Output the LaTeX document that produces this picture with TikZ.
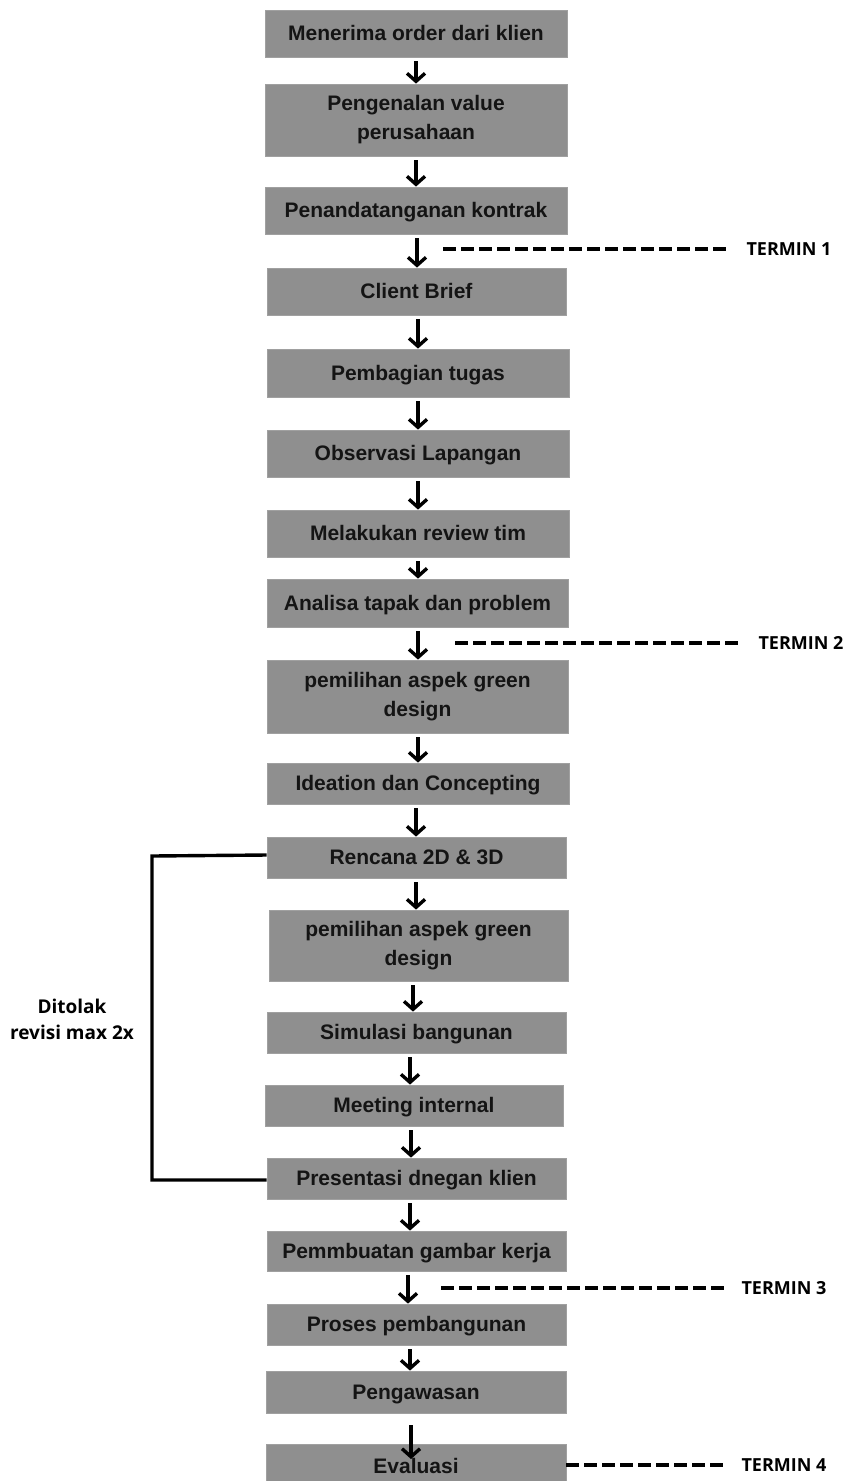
\documentclass[tikz,border=0pt]{standalone}
\usepackage{fontspec}
\setmainfont{Liberation Sans}
\newfontfamily\labelfont{Open Sans}
\usetikzlibrary{arrows.meta}
\definecolor{boxgray}{HTML}{8F8F8F}
\definecolor{boxtext}{HTML}{141414}
\tikzset{
  stepbox/.style={fill=boxgray, draw=boxgray!85!white, line width=0.8pt, inner sep=0pt,
    text=boxtext, align=center, font=\fontsize{21}{29}\selectfont\bfseries},
  onebox/.style={stepbox, text height=17.5pt, text depth=3.5pt},
  flowarrow/.style={line width=3.4pt, shorten <=4pt,
    -{Straight Barb[length=8pt,width=18pt,line width=3.4pt]}},
  terminline/.style={line width=4pt, dash pattern=on 13pt off 5pt, shorten >=17pt},
  terminlabel/.style={font=\labelfont\fontsize{18}{22}\selectfont\bfseries, inner sep=0pt},
  bracket/.style={line width=3.4pt}
}
\begin{document}
\begin{tikzpicture}[x=1pt,y=-1pt]
\useasboundingbox (0,0) rectangle (850,1481);
\node[onebox, minimum width=302, minimum height=47] (n1) at (416,33.5) {Menerima order dari klien};
\node[stepbox, minimum width=302, minimum height=72] (n2) at (416,120) {Pengenalan value\\perusahaan};
\node[onebox, minimum width=302, minimum height=47] (n3) at (416,210.5) {Penandatanganan kontrak};
\node[onebox, minimum width=299, minimum height=47] (n4) at (416.5,291.5) {Client Brief};
\node[onebox, minimum width=302, minimum height=48] (n5) at (418,373) {Pembagian tugas};
\node[onebox, minimum width=302, minimum height=47] (n6) at (418,453.5) {Observasi Lapangan};
\node[onebox, minimum width=302, minimum height=47] (n7) at (418,533.5) {Melakukan review tim};
\node[onebox, minimum width=301, minimum height=48] (n8) at (417.5,603) {Analisa tapak dan problem};
\node[stepbox, minimum width=301, minimum height=73] (n9) at (417.5,696.5) {pemilihan aspek green\\design};
\node[onebox, minimum width=302, minimum height=41] (n10) at (418,783.5) {Ideation dan Concepting};
\node[onebox, minimum width=299, minimum height=41] (n11) at (416.5,857.5) {Rencana 2D \& 3D};
\node[stepbox, minimum width=299, minimum height=71] (n12) at (418.5,945.5) {pemilihan aspek green\\design};
\node[onebox, minimum width=299, minimum height=41] (n13) at (416.5,1032.5) {Simulasi bangunan};
\node[onebox, minimum width=298, minimum height=41] (n14) at (414,1105.5) {Meeting internal};
\node[onebox, minimum width=299, minimum height=41] (n15) at (416.5,1178.5) {Presentasi dnegan klien};
\node[onebox, minimum width=299, minimum height=40] (n16) at (416.5,1251) {Pemmbuatan gambar kerja};
\node[onebox, minimum width=299, minimum height=41] (n17) at (416.5,1324.5) {Proses pembangunan};
\node[onebox, minimum width=300, minimum height=42] (n18) at (416,1392) {Pengawasan};
\node[onebox, minimum width=300, minimum height=44] (n19) at (416,1466) {Evaluasi};

% flow arrows
\draw[flowarrow] (n1.south -| 416,0) -- (n2.north -| 416,0);
\draw[flowarrow] (n2.south -| 416,0) -- (n3.north -| 416,0);
\draw[flowarrow] (n3.south -| 417,0) -- (n4.north -| 417,0);
\draw[flowarrow] (n4.south -| 418,0) -- (n5.north -| 418,0);
\draw[flowarrow] (n5.south -| 418,0) -- (n6.north -| 418,0);
\draw[flowarrow] (n6.south -| 418,0) -- (n7.north -| 418,0);
\draw[flowarrow] (n7.south -| 418,0) -- (n8.north -| 418,0);
\draw[flowarrow] (n8.south -| 418,0) -- (n9.north -| 418,0);
\draw[flowarrow] (n9.south -| 418,0) -- (n10.north -| 418,0);
\draw[flowarrow] (n10.south -| 416,0) -- (n11.north -| 416,0);
\draw[flowarrow] (n11.south -| 416,0) -- (n12.north -| 416,0);
\draw[flowarrow] (n12.south -| 413,0) -- (n13.north -| 413,0);
\draw[flowarrow] (n13.south -| 410,0) -- (n14.north -| 410,0);
\draw[flowarrow] (n14.south -| 411,0) -- (n15.north -| 411,0);
\draw[flowarrow] (n15.south -| 410,0) -- (n16.north -| 410,0);
\draw[flowarrow] (n16.south -| 408,0) -- (n17.north -| 408,0);
\draw[flowarrow] (n17.south -| 410,0) -- (n18.north -| 410,0);
\coordinate (evaltip) at (411,1459);
\draw[flowarrow, shorten <=12pt] (n18.south -| 411,0) -- (evaltip);

% termin markers
\node[terminlabel] (t1) at (789,249) {TERMIN 1};
\coordinate (t1s) at (443,249);
\draw[terminline] (t1s) -- (t1.west);
\node[terminlabel] (t2) at (801,643) {TERMIN 2};
\coordinate (t2s) at (455,643);
\draw[terminline] (t2s) -- (t2.west);
\node[terminlabel] (t3) at (784,1288) {TERMIN 3};
\coordinate (t3s) at (441,1288);
\draw[terminline] (t3s) -- (t3.west);
\node[terminlabel] (t4) at (784,1465) {TERMIN 4};
\draw[terminline] (n19.east |- 0,1465) -- (t4.west);

% revision bracket
\coordinate (bt) at (152,856);
\coordinate (bb) at (152,1180);
\draw[bracket] (n11.west |- 0,855) -- (bt) -- (bb) -- (n15.west |- 0,1180);
\node[terminlabel, align=center, font=\labelfont\fontsize{19}{26}\selectfont\bfseries] (rev) at (72,1019) {Ditolak\\revisi max 2x};
\end{tikzpicture}
\end{document}
